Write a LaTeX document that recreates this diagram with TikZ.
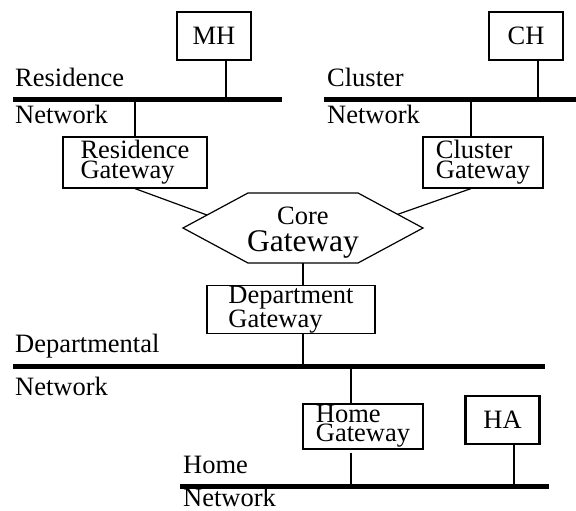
\documentclass[tikz,border=0pt]{standalone}
\usepackage{fontspec}
\setmainfont{Liberation Serif}
\usetikzlibrary{calc}

\tikzset{
  netline/.style={line width=5pt},
  hostbox/.style={draw,line width=2.2pt,minimum width=74pt,minimum height=48pt,inner sep=0pt},
  gwbox/.style={draw,line width=1.2pt,align=left,inner sep=0pt},
  hosttap/.style={line width=2pt},
  gwtap/.style={line width=1.2pt},
  netlabel/.style={anchor=base west,inner sep=0pt},
}

\begin{document}
\begin{tikzpicture}[x=1pt,y=-1pt,font=\fontsize{26.5}{20}\selectfont]
	\useasboundingbox (0,0) rectangle (576,511);

	% draw the networks
	\coordinate (resL) at (13,100);  \coordinate (resR) at (282,100);
	\coordinate (cluL) at (324,100); \coordinate (cluR) at (576,100);
	\coordinate (depL) at (13,366);  \coordinate (depR) at (545,366);
	\coordinate (homL) at (180,486); \coordinate (homR) at (549,486);
	\foreach \n in {res,clu,dep,hom} {
		\draw[netline] (\n L) -- (\n R);
	}

	% network names
	\node[netlabel] (reslbl) at (15,87)   {Residence};
	\node[netlabel] (resnet) at (15,123)  {Network};
	\node[netlabel] (clulbl) at (327,87)  {Cluster};
	\node[netlabel] (clunet) at (327,123) {Network};
	\node[netlabel] (deplbl) at (15,352)  {Departmental};
	\node[netlabel] (depnet) at (15,395)  {Network};
	\node[netlabel] (homlbl) at (183,473) {Home};
	\node[netlabel] (homnet) at (183,506) {Network};

	% draw the hosts
	\foreach \n/\x/\y in {MH/214/36, CH/526/36, HA/502.5/420} {
		\node[hostbox] (\n) at (\x,\y) {\n};
	}
	\coordinate (mhtap) at (226,100);
	\coordinate (chtap) at (538,100);
	\coordinate (hatap) at (514,486);
	\draw[hosttap] (MH.south -| mhtap) -- (mhtap);
	\draw[hosttap] (CH.south -| chtap) -- (chtap);
	\draw[hosttap] (HA.south -| hatap) -- (hatap);

	% draw the gateways
	\node[gwbox,minimum width=144pt,minimum height=51pt] (resgw) at (135,162.5) {Residence\\Gateway};
	\node[gwbox,minimum width=120pt,minimum height=51pt] (clugw) at (483,162.5) {Cluster\\Gateway};
	\node[gwbox,minimum width=168pt,minimum height=45pt,font=\fontsize{26.5}{18}\selectfont] (depgw) at (291,309.5) {Department\\Gateway};
	\node[gwbox,minimum width=120pt,minimum height=45pt,font=\fontsize{26.5}{19}\selectfont] (homgw) at (363,426.5) {Home\\Gateway};

	% the core gateway
	\coordinate (hexW)  at (183,228);
	\coordinate (hexNW) at (248,193);
	\coordinate (hexNE) at (358,193);
	\coordinate (hexE)  at (423,228);
	\coordinate (hexSE) at (358,263);
	\coordinate (hexSW) at (248,263);
	\draw[line width=1.2pt,line join=miter] (hexW) -- (hexNW) -- (hexNE) -- (hexE) -- (hexSE) -- (hexSW) -- cycle;
	\node[align=center,inner sep=0pt] (core) at (303,233) {Core\\[5pt]{\fontsize{31.5}{31.5}\selectfont Gateway}};

	% gateway links
	\coordinate (restap) at (135,100);
	\coordinate (clutap) at (471,100);
	\coordinate (deptap) at (303,366);
	\coordinate (homtapU) at (351,366);
	\coordinate (homtapD) at (351,486);
	\coordinate (hexS) at ($(hexSW)!0.5!(hexSE)$);
	\draw[gwtap] (restap) -- (restap |- resgw.north);
	\draw[gwtap] (resgw.south) -- ($(hexW)!0.37!(hexNW)$);
	\draw[gwtap] (clutap) -- (clutap |- clugw.north);
	\draw[gwtap] (clutap |- clugw.south) -- ($(hexE)!0.39!(hexNE)$);
	\draw[gwtap] (hexS) -- (hexS |- depgw.north);
	\draw[gwtap] (deptap |- depgw.south) -- (deptap);
	\draw[gwtap] (homtapU) -- (homtapU |- homgw.north);
	\draw[gwtap,shorten <=3pt] (homtapD |- homgw.south) -- (homtapD);

\end{tikzpicture}
\end{document}
